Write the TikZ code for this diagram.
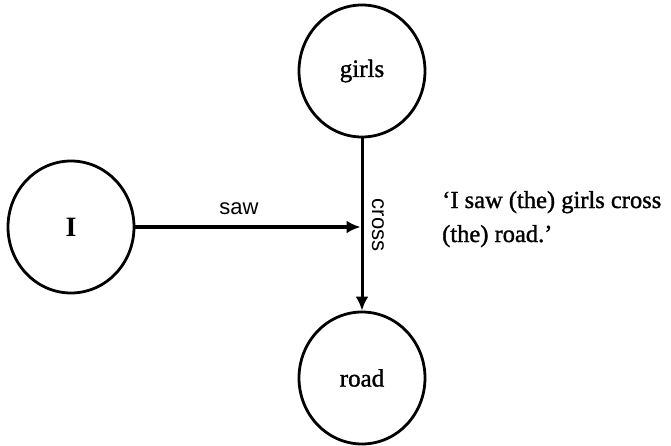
\documentclass[tikz,border=0pt]{standalone}
\usepackage{fontspec}
\setmainfont{Liberation Serif}
\setsansfont{Liberation Sans}
\newfontfamily\heavy[FakeBold=1.3]{Liberation Serif}
\usetikzlibrary{shapes.geometric,arrows.meta}
\tikzset{
  ent/.style={ellipse, draw, line width=2.8pt, minimum width=126pt, minimum height=132pt, inner sep=0pt, font=\heavy\fontsize{25}{28}\selectfont},
  conn/.style={line width=3pt, -{Latex[length=14pt,width=13pt]}},
  rel/.style={font=\sffamily\fontsize{22}{26}\selectfont, inner sep=0pt},
  gloss/.style={font=\heavy\fontsize{24.5}{28}\selectfont, anchor=base west, inner sep=0pt}
}
\begin{document}
\begin{tikzpicture}[x=1pt,y=-1pt]
\useasboundingbox (0,0) rectangle (671,446);
\node[ent, font=\bfseries\fontsize{28}{30}\selectfont] (I) at (71,227) {I};
\node[ent] (girls) at (362,71) {girls};
\node[ent] (road) at (362,378) {road};
\coordinate (j) at (girls.south |- I.east);
\draw[conn, shorten >=1.5pt] (I.east) -- (j);
\draw[conn] (girls) -- (road);
\node[rel] (saw) at (239,209) {saw};
\node[rel, rotate=-90] (cross) at (378,225) {cross};
\node[gloss] (q1) at (442,208) {‘I saw (the) girls cross};
\node[gloss] (q2) at (442,242) {(the) road.’};
\end{tikzpicture}
\end{document}
